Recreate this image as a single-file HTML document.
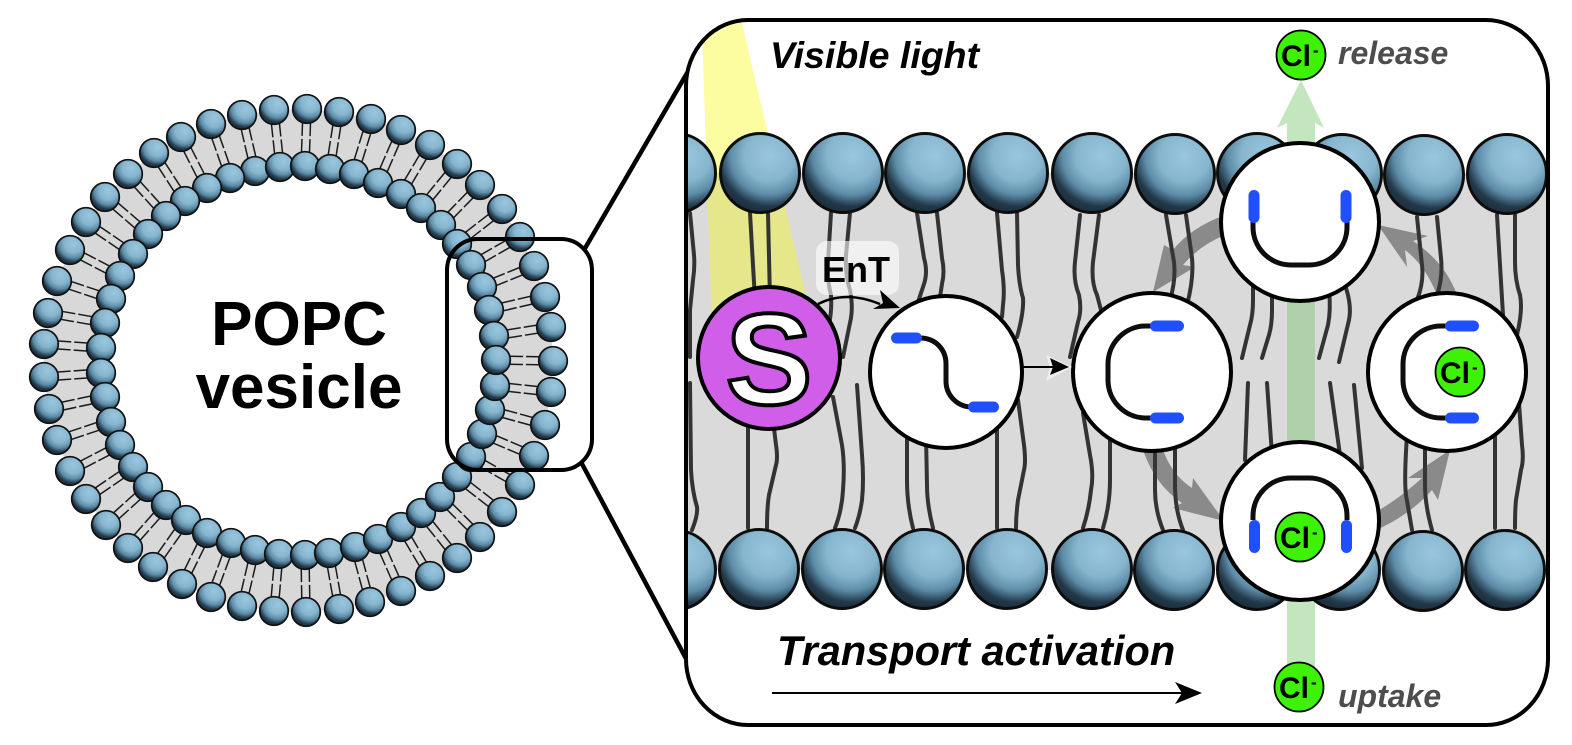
<!DOCTYPE html>
<html lang="en">
<head>
<meta charset="utf-8">
<title>POPC vesicle transport</title>
<style>
html,body{margin:0;padding:0;background:#fff;width:1572px;height:745px;overflow:hidden}
svg{display:block}
text{font-family:"Liberation Sans",sans-serif}
.cl{font-size:30px;font-weight:bold;fill:#000}
.sup{font-size:17px;font-weight:bold}
</style>
</head>
<body>
<svg width="1572" height="745" viewBox="0 0 1572 745" xmlns="http://www.w3.org/2000/svg">
<defs>
<radialGradient id="g" cx=".62" cy=".28" r=".8">
<stop offset="0" stop-color="#9ac7df"/>
<stop offset=".4" stop-color="#86b5ce"/>
<stop offset=".62" stop-color="#5d8ca8"/>
<stop offset=".8" stop-color="#22394a"/>
<stop offset="1" stop-color="#182630"/>
</radialGradient>
<clipPath id="pc"><rect x="686" y="20" width="862" height="705" rx="62" ry="66"/></clipPath>
</defs>

<!-- connectors -->
<g stroke="#000" stroke-width="4.500" fill="none">
<line x1="584" y1="250" x2="690" y2="68"/>
<line x1="581" y1="462" x2="690" y2="666"/>
</g>

<!-- vesicle band -->
<path fill="#d8d8d8" fill-rule="evenodd" d="M274 110L307 109L339 112L371 119L401 130L430 145L457 164L480 185L502 209L520 237L534 266L545 297L551 327L553 361L551 392L545 425L534 456L520 485L502 512L480 537L457 558L430 576L401 591L370 602L339 609L306 612L274 611L242 606L211 597L182 584L153 567L128 548L106 525L86 499L70 471L57 440L49 409L44 377L44 344L48 313L57 281L70 250L86 222L105 197L128 174L154 153L181 137L211 124L242 115Z M280 167L305 166L330 169L354 174L378 183L401 194L421 208L441 225L457 244L471 265L482 287L489 310L494 336L496 360L495 386L490 410L482 434L471 457L457 477L440 497L421 513L401 527L378 539L355 547L329 553L305 555L279 554L255 550L231 543L207 533L186 520L166 505L148 487L133 467L120 445L111 422L105 397L101 373L101 348L105 323L111 299L120 276L133 254L148 234L166 216L185 201L207 188L230 178L255 171Z"/>

<!-- vesicle tails -->
<path fill="none" stroke="#1a1a1a" stroke-width="9.500" stroke-dasharray="27 3 100" d="M274 110L280 167M307 109L305 166M339 112L330 169M371 119L354 174M401 130L378 183M430 145L401 194M457 164L421 208M480 185L441 225M502 209L457 244M520 237L471 265M534 266L482 287M545 297L489 310M551 327L494 336M553 361L496 360M551 392L495 386M545 425L490 410M534 456L482 434M520 485L471 457M502 512L457 477M480 537L440 497M457 558L421 513M430 576L401 527M401 591L378 539M370 602L355 547M339 609L329 553M306 612L305 555M274 611L279 554M242 606L255 550M211 597L231 543M182 584L207 533M153 567L186 520M128 548L166 505M106 525L148 487M86 499L133 467M70 471L120 445M57 440L111 422M49 409L105 397M44 377L101 373M44 344L101 348M48 313L105 323M57 281L111 299M70 250L120 276M86 222L133 254M105 197L148 234M128 174L166 216M154 153L185 201M181 137L207 188M211 124L230 178M242 115L255 171"/>
<path fill="none" stroke="#d8d8d8" stroke-width="6.500" d="M274 110L280 167M307 109L305 166M339 112L330 169M371 119L354 174M401 130L378 183M430 145L401 194M457 164L421 208M480 185L441 225M502 209L457 244M520 237L471 265M534 266L482 287M545 297L489 310M551 327L494 336M553 361L496 360M551 392L495 386M545 425L490 410M534 456L482 434M520 485L471 457M502 512L457 477M480 537L440 497M457 558L421 513M430 576L401 527M401 591L378 539M370 602L355 547M339 609L329 553M306 612L305 555M274 611L279 554M242 606L255 550M211 597L231 543M182 584L207 533M153 567L186 520M128 548L166 505M106 525L148 487M86 499L133 467M70 471L120 445M57 440L111 422M49 409L105 397M44 377L101 373M44 344L101 348M48 313L105 323M57 281L111 299M70 250L120 276M86 222L133 254M105 197L148 234M128 174L166 216M154 153L185 201M181 137L207 188M211 124L230 178M242 115L255 171"/>

<!-- vesicle heads -->
<g fill="url(#g)" stroke="#111" stroke-width="1.700">
<circle cx="274" cy="110" r="14.300"/><circle cx="307" cy="109" r="14.300"/><circle cx="339" cy="112" r="14.300"/><circle cx="371" cy="119" r="14.300"/><circle cx="401" cy="130" r="14.300"/><circle cx="430" cy="145" r="14.300"/><circle cx="457" cy="164" r="14.300"/><circle cx="480" cy="185" r="14.300"/><circle cx="502" cy="209" r="14.300"/><circle cx="520" cy="237" r="14.300"/><circle cx="534" cy="266" r="14.300"/><circle cx="545" cy="297" r="14.300"/><circle cx="551" cy="327" r="14.300"/><circle cx="553" cy="361" r="14.300"/><circle cx="551" cy="392" r="14.300"/><circle cx="545" cy="425" r="14.300"/><circle cx="534" cy="456" r="14.300"/><circle cx="520" cy="485" r="14.300"/><circle cx="502" cy="512" r="14.300"/><circle cx="480" cy="537" r="14.300"/><circle cx="457" cy="558" r="14.300"/><circle cx="430" cy="576" r="14.300"/><circle cx="401" cy="591" r="14.300"/><circle cx="370" cy="602" r="14.300"/><circle cx="339" cy="609" r="14.300"/><circle cx="306" cy="612" r="14.300"/><circle cx="274" cy="611" r="14.300"/><circle cx="242" cy="606" r="14.300"/><circle cx="211" cy="597" r="14.300"/><circle cx="182" cy="584" r="14.300"/><circle cx="153" cy="567" r="14.300"/><circle cx="128" cy="548" r="14.300"/><circle cx="106" cy="525" r="14.300"/><circle cx="86" cy="499" r="14.300"/><circle cx="70" cy="471" r="14.300"/><circle cx="57" cy="440" r="14.300"/><circle cx="49" cy="409" r="14.300"/><circle cx="44" cy="377" r="14.300"/><circle cx="44" cy="344" r="14.300"/><circle cx="48" cy="313" r="14.300"/><circle cx="57" cy="281" r="14.300"/><circle cx="70" cy="250" r="14.300"/><circle cx="86" cy="222" r="14.300"/><circle cx="105" cy="197" r="14.300"/><circle cx="128" cy="174" r="14.300"/><circle cx="154" cy="153" r="14.300"/><circle cx="181" cy="137" r="14.300"/><circle cx="211" cy="124" r="14.300"/><circle cx="242" cy="115" r="14.300"/>
<circle cx="255" cy="171" r="14.300"/><circle cx="230" cy="178" r="14.300"/><circle cx="207" cy="188" r="14.300"/><circle cx="185" cy="201" r="14.300"/><circle cx="166" cy="216" r="14.300"/><circle cx="148" cy="234" r="14.300"/><circle cx="133" cy="254" r="14.300"/><circle cx="120" cy="276" r="14.300"/><circle cx="111" cy="299" r="14.300"/><circle cx="105" cy="323" r="14.300"/><circle cx="101" cy="348" r="14.300"/><circle cx="101" cy="373" r="14.300"/><circle cx="105" cy="397" r="14.300"/><circle cx="111" cy="422" r="14.300"/><circle cx="120" cy="445" r="14.300"/><circle cx="133" cy="467" r="14.300"/><circle cx="148" cy="487" r="14.300"/><circle cx="166" cy="505" r="14.300"/><circle cx="186" cy="520" r="14.300"/><circle cx="207" cy="533" r="14.300"/><circle cx="231" cy="543" r="14.300"/><circle cx="255" cy="550" r="14.300"/><circle cx="279" cy="554" r="14.300"/>
<circle cx="280" cy="167" r="14.300"/><circle cx="305" cy="166" r="14.300"/><circle cx="330" cy="169" r="14.300"/><circle cx="354" cy="174" r="14.300"/><circle cx="378" cy="183" r="14.300"/><circle cx="401" cy="194" r="14.300"/><circle cx="421" cy="208" r="14.300"/><circle cx="441" cy="225" r="14.300"/><circle cx="457" cy="244" r="14.300"/><circle cx="471" cy="265" r="14.300"/>
<circle cx="305" cy="555" r="14.300"/><circle cx="329" cy="553" r="14.300"/><circle cx="355" cy="547" r="14.300"/><circle cx="378" cy="539" r="14.300"/><circle cx="401" cy="527" r="14.300"/><circle cx="421" cy="513" r="14.300"/><circle cx="440" cy="497" r="14.300"/><circle cx="457" cy="477" r="14.300"/><circle cx="471" cy="457" r="14.300"/><circle cx="482" cy="434" r="14.300"/><circle cx="490" cy="410" r="14.300"/><circle cx="495" cy="386" r="14.300"/>
<circle cx="482" cy="287" r="14.300"/><circle cx="489" cy="310" r="14.300"/><circle cx="494" cy="336" r="14.300"/><circle cx="496" cy="360" r="14.300"/>
</g>

<rect x="447" y="239" width="145" height="231" rx="31" fill="none" stroke="#000" stroke-width="4"/>

<text x="299" y="345" font-size="62" font-weight="bold" text-anchor="middle">POPC</text>
<text x="299" y="408" font-size="62" font-weight="bold" text-anchor="middle">vesicle</text>

<!-- panel -->
<rect x="686" y="20" width="862" height="705" rx="62" ry="66" fill="#fff"/>
<g clip-path="url(#pc)">
<rect x="680" y="173" width="880" height="397" fill="#dadada"/>
<polygon points="702,30 740,15 806,296 712,330" fill="#f7f711" opacity=".4"/>

<!-- channel -->
<path d="M1301 80L1324 128L1315 123V669H1287V123L1277 128Z" fill="#74c66b" opacity=".43"/>

<!-- tails -->
<g fill="none" stroke="#333" stroke-width="4" stroke-linejoin="round" stroke-linecap="round">
<path d="M690 213L694 255Q695 267 693 280L690 310V357"/>
<path d="M690 383L691 470Q692 490 697 507Q698 515 692 530"/>
<path d="M750 213L755 300M768 213L770 300"/>
<path d="M748 420V528M773 420L776 445Q778 458 776 465L769 495Q767 507 767 528"/>
<path d="M831 213L828 262Q827 280 831 295Q832 310 829 325"/>
<path d="M850 213L846 255Q845 275 850 290Q853 305 851 318L843 357"/>
<path d="M833 397L842 445Q845 465 843 490Q842 510 835 528"/>
<path d="M857 385L862 455Q864 480 862 500Q860 515 855 528"/>
<path d="M917 213L924 258Q928 272 924 284L917 305M937 213L942 258Q945 272 942 284L938 310"/>
<path d="M907 435V480Q907 505 913 528M926 435L927 485Q927 505 933 528"/>
<path d="M997 213L1002 270Q1005 290 1003 305L1002 317"/>
<path d="M1017 213L1018 265Q1019 285 1023 298Q1024 312 1017 337"/>
<path d="M997 425V528"/>
<path d="M1018 400L1024 445Q1026 462 1024 470L1018 500Q1016 515 1016 528"/>
<path d="M1080 215L1075 262Q1073 280 1079 295Q1082 310 1078 322L1070 357"/>
<path d="M1099 215L1093 262Q1091 282 1097 295L1101 310"/>
<path d="M1083 413L1090 455Q1094 475 1091 490Q1089 510 1083 528"/>
<path d="M1110 435V480Q1110 505 1103 528"/>
<path d="M1166 215L1174 262Q1176 280 1170 300M1186 215L1192 258Q1194 278 1187 305"/>
<path d="M1155 445V490Q1155 510 1163 530M1175 445V485Q1175 510 1183 530"/>
<path d="M1253 280V300Q1253 315 1250 325L1242 358M1272 290V310Q1272 325 1269 335L1262 358"/>
<path d="M1329 290Q1331 310 1328 325L1319 358M1345 285Q1352 305 1349 320L1339 362"/>
<path d="M1248 383L1245 460M1267 383L1272 455M1330 383L1340 455M1354 385L1362 468"/>
<path d="M1417 217L1422 265Q1424 282 1417 300M1437 217L1441 258Q1443 278 1437 295"/>
<path d="M1407 435Q1404 480 1406 495L1412 530M1425 440V485Q1425 505 1432 530"/>
<path d="M1497 215L1503 315M1515 215V262Q1515 280 1520 295Q1523 310 1517 335"/>
<path d="M1495 430V528M1519 403L1522 445Q1524 460 1521 470L1516 500Q1515 510 1515 528"/>
</g>

<!-- heads -->
<g fill="url(#g)" stroke="#0d0d0d" stroke-width="3">
<circle cx="676" cy="173" r="39.500"/><circle cx="760" cy="173" r="39.500"/><circle cx="843" cy="173" r="39.500"/><circle cx="925" cy="173" r="39.500"/><circle cx="1008" cy="173" r="39.500"/><circle cx="1092" cy="173" r="39.500"/><circle cx="1175" cy="174" r="39.500"/><circle cx="1257" cy="173" r="39.500"/><circle cx="1342" cy="174" r="39.500"/><circle cx="1424" cy="175" r="39.500"/><circle cx="1507" cy="174" r="39.500"/>
<circle cx="676" cy="570" r="39.500"/><circle cx="759" cy="569" r="39.500"/><circle cx="842" cy="569" r="39.500"/><circle cx="924" cy="569" r="39.500"/><circle cx="1007" cy="569" r="39.500"/><circle cx="1092" cy="569" r="39.500"/><circle cx="1174" cy="570" r="39.500"/><circle cx="1257" cy="570" r="39.500"/><circle cx="1340" cy="570" r="39.500"/><circle cx="1423" cy="571" r="39.500"/><circle cx="1505" cy="570" r="39.500"/>
</g>

<!-- cycle arrows -->
<g fill="#3a3a3a" opacity=".5">
<path d="M1225 215Q1190 228 1173 250L1164 245L1153 292L1195 267L1183 265Q1200 245 1225 235Z"/>
<path d="M1378 225L1428 236L1413 241Q1445 262 1457 295L1437 295Q1425 265 1405 250L1407 267Z"/>
<path d="M1143 450Q1155 485 1182 503L1173 508L1224 521L1193 478L1192 488Q1172 475 1163 450Z"/>
<path d="M1376 512Q1400 498 1422 478L1408 478L1450 450L1438 500L1432 490Q1410 515 1376 530Z"/>
</g>

<!-- EnT -->
<rect x="816" y="241" width="83" height="54" rx="11" fill="#fff" opacity=".6"/>
<text x="822" y="282" font-size="36" font-weight="bold">EnT</text>
</g>

<!-- transporter circles -->
<g fill="#fff" stroke="#000" stroke-width="4">
<circle cx="769" cy="358" r="71" fill="#d05ee8"/>
<circle cx="946" cy="372" r="76"/>
<circle cx="1152" cy="372" r="79"/>
<circle cx="1447" cy="372" r="79"/>
<circle cx="1300" cy="222" r="79"/>
<circle cx="1300" cy="521" r="79"/>
</g>

<text x="769" y="404" font-size="130" font-weight="bold" text-anchor="middle" fill="#fff" stroke="#000" stroke-width="4">S</text>

<!-- EnT arrow -->
<path d="M818 304Q846 290 880 304" fill="none" stroke="#000" stroke-width="2.500"/>
<polygon points="900,308 880,290 883,303 873,309" fill="#000"/>

<!-- next arrow -->
<polygon points="1046,355 1072,367 1046,381 1050,367" fill="#eee"/>
<line x1="1020" y1="367" x2="1056" y2="367" stroke="#000" stroke-width="2"/>
<polygon points="1069,367 1050,358 1053,367 1050,375" fill="#000"/>

<!-- transporter backbones -->
<g fill="none" stroke="#0d0d0d" stroke-width="5">
<path d="M920 338C936 338 946 350 946 364V381C946 396 958 407 972 407"/>
<path d="M1152 326H1146A38 38 0 0 0 1108 364V380A38 38 0 0 0 1146 418H1152"/>
<path d="M1447 326H1441A38 38 0 0 0 1403 364V380A38 38 0 0 0 1441 418H1447"/>
<path d="M1253 222V227A38 38 0 0 0 1291 265H1309A38 38 0 0 0 1347 227V222"/>
<path d="M1253 520V516A38 38 0 0 1 1291 478H1309A38 38 0 0 1 1347 516V520"/>
</g>
<g fill="#1f4fff">
<rect x="891" y="332.500" width="31" height="11" rx="5.500"/>
<rect x="968" y="401.500" width="31" height="11" rx="5.500"/>
<rect x="1150" y="320.500" width="34" height="11" rx="5.500"/>
<rect x="1150" y="412.500" width="34" height="11" rx="5.500"/>
<rect x="1445" y="320.500" width="34" height="11" rx="5.500"/>
<rect x="1445" y="412.500" width="34" height="11" rx="5.500"/>
<rect x="1248.500" y="190" width="11" height="33" rx="5.500"/>
<rect x="1340.500" y="190" width="11" height="33" rx="5.500"/>
<rect x="1249" y="520" width="11" height="33" rx="5.500"/>
<rect x="1341" y="520" width="11" height="33" rx="5.500"/>
</g>

<!-- Cl ions -->
<g fill="#3df206" stroke="#000" stroke-width="1.800">
<circle cx="1301" cy="55" r="24.500"/>
<circle cx="1299" cy="687" r="24.500"/>
<circle cx="1460" cy="372" r="24.500"/>
<circle cx="1300" cy="537" r="24.500"/>
</g>
<text class="cl" x="1281" y="66">Cl</text><text class="sup" x="1313" y="56">-</text>
<text class="cl" x="1279" y="698">Cl</text><text class="sup" x="1311" y="688">-</text>
<text class="cl" x="1440" y="383">Cl</text><text class="sup" x="1472" y="373">-</text>
<text class="cl" x="1280" y="548">Cl</text><text class="sup" x="1312" y="538">-</text>

<!-- labels -->
<text x="770" y="68" font-size="37.500" font-weight="bold" font-style="italic">Visible light</text>
<text x="1338" y="64" font-size="32" font-weight="bold" font-style="italic" fill="#4d4d4d">release</text>
<text x="1338" y="707" font-size="32" font-weight="bold" font-style="italic" fill="#4d4d4d">uptake</text>
<text x="777" y="665" font-size="41.500" font-weight="bold" font-style="italic">Transport activation</text>
<line x1="772" y1="693" x2="1185" y2="693" stroke="#000" stroke-width="2"/>
<polygon points="1202,693 1175,682 1182,693 1175,704" fill="#000"/>

<rect x="686" y="20" width="862" height="705" rx="62" ry="66" fill="none" stroke="#000" stroke-width="4"/>
</svg>
</body>
</html>
